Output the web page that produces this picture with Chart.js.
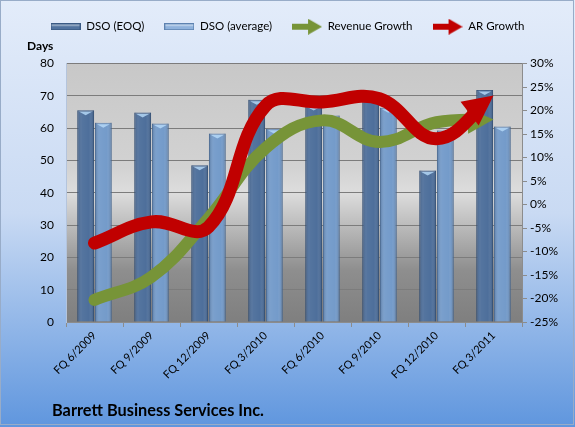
<!DOCTYPE html>
<html>
<head>
<meta charset="utf-8">
<script src="https://cdn.jsdelivr.net/npm/chart.js@4.4.1/dist/chart.umd.min.js"></script>
<style>
  html, body { margin: 0; padding: 0; background: #fff; }
  #wrap { width: 575px; height: 427px; }
</style>
</head>
<body>
<div id="wrap"><canvas id="chart" width="575" height="427"></canvas></div>
<script>
// Data
const quarters = ['FQ 6/2009','FQ 9/2009','FQ 12/2009','FQ 3/2010','FQ 6/2010','FQ 9/2010','FQ 12/2010','FQ 3/2011'];
const dsoEoq = [65.5, 64.8, 48.5, 68.8, 67.0, 69.5, 46.9, 71.8];
const dsoAvg = [61.7, 61.4, 58.3, 59.8, 63.9, 66.3, 59.3, 60.5];
const revenueGrowth = [-20.3, -15.4, -2.9, 12.0, 17.9, 13.3, 17.5, 18.1];
const arGrowth = [-8.2, -3.7, -4.8, 21.0, 21.8, 22.5, 14.0, 23.2];
const daysMin = 0, daysMax = 80, daysStep = 10;
const pctMin = -25, pctMax = 30, pctStep = 5;

const FONT = 'Lato, "Liberation Sans", sans-serif';
const RED = '#c00000';
const GREEN = '#779438';

// small legend icons
function barIcon(fill, edge) {
    const c = document.createElement('canvas');
    c.width = 30; c.height = 7;
    const g = c.getContext('2d');
    g.fillStyle = fill; g.fillRect(0, 0, 30, 7);
    g.strokeStyle = edge; g.lineWidth = 1; g.strokeRect(0.5, 0.5, 29, 6);
    g.fillStyle = 'rgba(255,255,255,0.35)'; g.fillRect(1, 1, 28, 2);
    return c;
}
function arrowIcon(color) {
    const c = document.createElement('canvas');
    c.width = 30; c.height = 16;
    const g = c.getContext('2d');
    g.fillStyle = color;
    g.fillRect(0, 5, 18, 6);
    g.beginPath(); g.moveTo(16, 0); g.lineTo(30, 8); g.lineTo(16, 16); g.closePath(); g.fill();
    return c;
}
const icons = [barIcon('#51739f', '#3a5a84'), barIcon('#8fb2dc', '#5d82b0'), arrowIcon(GREEN), arrowIcon(RED)];

// Backgrounds
const backdrop = {
    id: 'backdrop',
    beforeLayout(chart) {
        // leave room under the legend for the "Days" caption
        const lg = chart.legend;
        if (lg && !lg._spaced) {
            const fit = lg.fit;
            lg.fit = function () { fit.call(this); this.height += 21; };
            lg._spaced = true;
        }
    },
    beforeDraw(chart) {
        const {ctx, width, height, chartArea: a} = chart;
        ctx.save();
        let g = ctx.createLinearGradient(0, 0, 0, height);
        g.addColorStop(0, '#e3ecfa');
        g.addColorStop(0.5, '#c9daf3');
        g.addColorStop(1, '#5f96de');
        ctx.fillStyle = g;
        ctx.fillRect(0, 0, width, height);
        ctx.strokeStyle = '#98acc8';
        ctx.strokeRect(0.5, 0.5, 573, 424);

        g = ctx.createLinearGradient(0, a.top, 0, a.bottom);
        g.addColorStop(0, '#c8c8c8');
        g.addColorStop(0.4, '#d2d2d2');
        g.addColorStop(0.5, '#dddddd');
        g.addColorStop(0.8, '#8e8e8e');
        g.addColorStop(1, '#7f7f7f');
        ctx.fillStyle = g;
        ctx.fillRect(a.left, a.top, a.right - a.left, a.bottom - a.top);
        ctx.restore();
    }
};

// Bar shading + arrowheads on growth lines
function arrowGeom(meta, len) {
    const pts = meta.data;
    const p = pts[pts.length - 1];
    let cx = p.cp1x, cy = p.cp1y;
    if (cx === undefined || (Math.abs(cx - p.x) < 0.01 && Math.abs(cy - p.y) < 0.01)) {
        cx = pts[pts.length - 2].x; cy = pts[pts.length - 2].y;
    }
    let dx = p.x - cx, dy = p.y - cy;
    const d = Math.hypot(dx, dy) || 1;
    dx /= d; dy /= d;
    return {tx: p.x, ty: p.y, dx, dy, bx: p.x - dx * len, by: p.y - dy * len};
}

const decorations = {
    id: 'decorations',
    beforeDatasetDraw(chart, args) {
        const ds = chart.data.datasets[args.index];
        if (ds.type !== 'line') return;
        const {ctx, width, height} = chart;
        const gm = arrowGeom(args.meta, ds.arrowLen);
        const px = -gm.dy, py = gm.dx;
        const sx = gm.bx + gm.dx * 3, sy = gm.by + gm.dy * 3;
        ctx.save();
        ctx.beginPath();
        ctx.rect(0, 0, width, height);
        ctx.moveTo(sx + px * 40, sy + py * 40);
        ctx.lineTo(sx + px * 40 + gm.dx * 60, sy + py * 40 + gm.dy * 60);
        ctx.lineTo(sx - px * 40 + gm.dx * 60, sy - py * 40 + gm.dy * 60);
        ctx.lineTo(sx - px * 40, sy - py * 40);
        ctx.closePath();
        ctx.clip('evenodd');
    },
    afterDatasetDraw(chart, args) {
        const ds = chart.data.datasets[args.index];
        const {ctx} = chart;
        if (ds.type === 'line') {
            ctx.restore();
            const gm = arrowGeom(args.meta, ds.arrowLen);
            const px = -gm.dy, py = gm.dx, hw = ds.arrowHalf;
            ctx.save();
            ctx.fillStyle = ds.borderColor;
            ctx.beginPath();
            ctx.moveTo(gm.tx, gm.ty);
            ctx.lineTo(gm.bx + px * hw, gm.by + py * hw);
            ctx.lineTo(gm.bx - px * hw, gm.by - py * hw);
            ctx.closePath();
            ctx.fill();
            ctx.restore();
            return;
        }
        // bars: side shading and top bevel
        ctx.save();
        args.meta.data.forEach(bar => {
            const l = bar.x - bar.width / 2, r = bar.x + bar.width / 2;
            const g = ctx.createLinearGradient(l, 0, r, 0);
            g.addColorStop(0, 'rgba(20,40,70,0.30)');
            g.addColorStop(0.3, 'rgba(255,255,255,0.06)');
            g.addColorStop(0.7, 'rgba(255,255,255,0.02)');
            g.addColorStop(1, 'rgba(20,40,70,0.30)');
            ctx.fillStyle = g;
            ctx.fillRect(l, bar.y, r - l, bar.base - bar.y);
            ctx.fillStyle = 'rgba(185,220,250,0.8)';
            ctx.beginPath();
            ctx.moveTo(l + 2, bar.y + 1.5);
            ctx.lineTo(r - 2, bar.y + 1.5);
            ctx.lineTo(bar.x, bar.y + 5);
            ctx.closePath();
            ctx.fill();
        });
        ctx.restore();
    }
};

// Axis title and company name
const captions = {
    id: 'captions',
    afterDraw(chart) {
        const {ctx} = chart;
        ctx.save();
        ctx.fillStyle = '#000';
        ctx.textBaseline = 'alphabetic';
        ctx.font = 'bold 12px ' + FONT;
        ctx.textAlign = 'left';
        ctx.fillText('Days', 27, 50);
        ctx.font = 'bold 17px ' + FONT;
        ctx.fillText('Barrett Business Services Inc.', 52, 416, 212);
        ctx.restore();
    }
};

const ctx = document.getElementById('chart').getContext('2d');
new Chart(ctx, {
    data: {
        labels: quarters,
        datasets: [
            {
                type: 'bar', label: 'DSO (EOQ)', data: dsoEoq, yAxisID: 'y',
                backgroundColor: '#4a6c99', borderColor: '#3b5a83', borderWidth: 1,
                categoryPercentage: 0.62, barPercentage: 0.95, order: 2
            },
            {
                type: 'bar', label: 'DSO (average)', data: dsoAvg, yAxisID: 'y',
                backgroundColor: '#7199c9', borderColor: '#5b80ad', borderWidth: 1,
                categoryPercentage: 0.62, barPercentage: 0.95, order: 2
            },
            {
                type: 'line', label: 'Revenue Growth', data: revenueGrowth, yAxisID: 'y1',
                borderColor: GREEN, backgroundColor: GREEN, borderWidth: 12,
                tension: 0.4, pointRadius: 0, borderCapStyle: 'round', fill: false,
                arrowLen: 26, arrowHalf: 13, order: 1
            },
            {
                type: 'line', label: 'AR Growth', data: arGrowth, yAxisID: 'y1',
                borderColor: RED, backgroundColor: RED, borderWidth: 13,
                tension: 0.4, pointRadius: 0, borderCapStyle: 'round', fill: false,
                arrowLen: 30, arrowHalf: 15, order: 0
            }
        ]
    },
    options: {
        responsive: false,
        animation: false,
        devicePixelRatio: 1,
        layout: { padding: { top: 1, left: 0, right: 0, bottom: 0 } },
        plugins: {
            legend: {
                position: 'top',
                labels: {
                    usePointStyle: true,
                    pointStyleWidth: 30,
                    padding: 20,
                    color: '#000',
                    font: { family: FONT, size: 11.5 },
                    sort: (a, b) => a.datasetIndex - b.datasetIndex,
                    generateLabels(chart) {
                        return chart.data.datasets.map((ds, i) => ({
                            text: ds.label, datasetIndex: i, pointStyle: icons[i],
                            fillStyle: ds.backgroundColor, strokeStyle: ds.borderColor,
                            lineWidth: 0, hidden: false, fontColor: '#000'
                        }));
                    }
                }
            },
            tooltip: { enabled: false }
        },
        scales: {
            x: {
                offset: true,
                grid: { display: true, drawOnChartArea: false, offset: true, tickLength: 5, color: '#8c8c8c' },
                border: { color: '#8c8c8c' },
                ticks: { minRotation: 45, maxRotation: 45, color: '#000', font: { family: FONT, size: 11 }, padding: 2 },
                afterFit(s) { s.height = 105; }
            },
            y: {
                position: 'left', min: daysMin, max: daysMax,
                ticks: { stepSize: daysStep, color: '#000', font: { family: FONT, size: 12 }, padding: 12 },
                grid: { color: '#7c7c7c', drawTicks: false },
                border: { color: '#b4c4dc' },
                afterFit(s) { s.width = 66; }
            },
            y1: {
                position: 'right', min: pctMin, max: pctMax,
                ticks: { stepSize: pctStep, color: '#000', font: { family: FONT, size: 12 }, padding: 3,
                         callback: v => v + '%' },
                grid: { drawOnChartArea: false, tickLength: 5, color: '#8c8c8c' },
                border: { color: '#8c8c8c' },
                afterFit(s) { s.width = 53; }
            }
        }
    },
    plugins: [backdrop, decorations, captions]
});
</script>
</body>
</html>
